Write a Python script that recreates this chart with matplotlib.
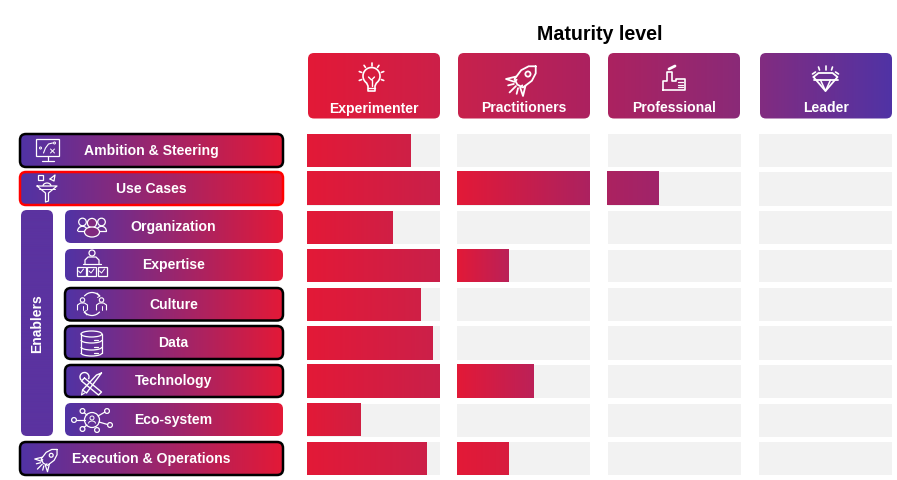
import numpy as np
import matplotlib
matplotlib.use("Agg")
import matplotlib.pyplot as plt
from matplotlib.colors import LinearSegmentedColormap, to_rgb
from matplotlib.patches import FancyBboxPatch, Circle, Ellipse, Rectangle, Arc

plt.rcParams['font.family'] = ['Liberation Sans', 'DejaVu Sans']

# data
niveles = ["Experimenter", "Practitioners", "Professional", "Leader"]
filas = ["Ambition & Steering", "Use Cases", "Organization", "Expertise", "Culture",
         "Data", "Technology", "Eco-system", "Execution & Operations"]
experimenter = [0.78, 1.0, 0.64, 1.0, 0.855, 0.94, 1.0, 0.40, 0.90]
practitioners = [0, 1.0, 0, 0.385, 0, 0, 0.575, 0, 0.39]
professional = [0, 0.39, 0, 0, 0, 0, 0, 0, 0]
leader = [0, 0, 0, 0, 0, 0, 0, 0, 0]
valores = [experimenter, practitioners, professional, leader]

ROJO = "#e31937"
MORADO = "#5033a5"
BLANCO = "white"

fig = plt.figure(figsize=(8.97, 4.81), dpi=100)
ax = fig.add_axes([0, 0, 1, 1])


def gradiente(x0, y0, x1, y1, c0, c1, clip=None):
    cmap = LinearSegmentedColormap.from_list("g", [to_rgb(c0), to_rgb(c1)])
    im = ax.imshow(np.linspace(0, 1, 256).reshape(1, -1), cmap=cmap, extent=(x0, x1, y1, y0),
                   aspect="auto", interpolation="bilinear", zorder=2)
    if clip is not None:
        im.set_clip_path(clip)


def caja(x0, y0, x1, y1, c0, c1, borde=None, lw=1.8, r=6):
    forma = FancyBboxPatch((x0 + r, y0 + r), x1 - x0 - 2 * r, y1 - y0 - 2 * r,
                           boxstyle="round,pad=%d,rounding_size=%d" % (r, r),
                           fc="none", ec="none", zorder=2)
    ax.add_patch(forma)
    gradiente(x0, y0, x1, y1, c0, c1, clip=forma)
    if borde:
        ax.add_patch(FancyBboxPatch((x0 + r, y0 + r), x1 - x0 - 2 * r, y1 - y0 - 2 * r,
                                    boxstyle="round,pad=%d,rounding_size=%d" % (r, r),
                                    fc="none", ec=borde, lw=lw, zorder=3))


def ln(xs, ys, lw=0.9):
    ax.plot(xs, ys, color=BLANCO, lw=lw, zorder=5, solid_capstyle="round", solid_joinstyle="round")


def circ(x, y, r, lw=0.9):
    ax.add_patch(Circle((x, y), r, fc="none", ec=BLANCO, lw=lw, zorder=5))


def rect(x, y, w, h, lw=0.9):
    ax.add_patch(Rectangle((x, y), w, h, fc="none", ec=BLANCO, lw=lw, zorder=5))


def arco(x, y, w, h, a, b, lw=0.9):
    ax.add_patch(Arc((x, y), w, h, theta1=a, theta2=b, ec=BLANCO, lw=lw, zorder=5))


# iconos
def icono_pizarra(cx, cy):
    rect(cx - 11.5, cy - 11, 23, 17)
    ln([cx, cx], [cy + 6, cy + 10])
    ln([cx - 6, cx + 6], [cy + 11, cy + 11])
    ln([cx - 4, cx - 2, cx + 1, cx + 5], [cy + 3, cy - 2, cy - 6, cy - 7], lw=0.8)
    circ(cx - 7, cy - 2, 1, lw=0.7)
    circ(cx + 7, cy - 7, 1, lw=0.7)
    ln([cx + 3, cx + 7], [cy - 1, cy + 3], lw=0.7)
    ln([cx + 7, cx + 3], [cy - 1, cy + 3], lw=0.7)


def icono_embudo(cx, cy):
    ln([cx - 10, cx + 10, cx + 1.5, cx + 1.5, cx - 1.5, cx - 1.5, cx - 10],
       [cy - 2, cy - 2, cy + 5, cy + 13, cy + 14, cy + 5, cy - 2])
    ln([cx - 8, cx + 8], [cy + 1, cy + 1], lw=0.7)
    arco(cx, cy - 2, 8, 6, 180, 360)
    rect(cx - 9, cy - 13, 5, 5)
    ln([cx + 3, cx + 8, cx + 7, cx + 3], [cy - 9, cy - 13, cy - 7, cy - 9])


def persona(x, y, r=3.2, lw=0.9):
    circ(x, y, r, lw=lw)
    arco(x, y + r + 5.5, 2.6 * r, 10, 180, 360, lw=lw)
    ln([x - 1.3 * r, x + 1.3 * r], [y + r + 5.5, y + r + 5.5], lw=lw)


def icono_grupo(cx, cy):
    persona(cx - 9.5, cy - 5, 3.8)
    persona(cx + 9.5, cy - 5, 3.8)
    ax.add_patch(Circle((cx, cy - 4), 4.6, fc="#80297e", ec=BLANCO, lw=0.9, zorder=5))
    ax.add_patch(Ellipse((cx, cy + 5), 15, 10, fc="#80297e", ec=BLANCO, lw=0.9, zorder=5))


def icono_experto(cx, cy):
    circ(cx, cy - 12, 3)
    ln([cx - 7, cx - 7, cx - 4, cx + 4, cx + 7, cx + 7], [cy - 1, cy - 5, cy - 8, cy - 8, cy - 5, cy - 1])
    ln([cx - 9, cx + 9], [cy - 1, cy - 1])
    for dx in [-15.5, -5, 5.5]:
        rect(cx + dx, cy + 2, 9, 8.5)
        ln([cx + dx + 2, cx + dx + 4, cx + dx + 7], [cy + 6, cy + 8, cy + 4], lw=0.7)


def icono_cultura(cx, cy):
    for dx in [-9.5, 9.5]:
        circ(cx + dx, cy - 4, 2.2, lw=0.8)
        ln([cx + dx - 5, cx + dx - 5, cx + dx - 2, cx + dx + 2, cx + dx + 5, cx + dx + 5],
           [cy + 6, cy + 1, cy - 1, cy - 1, cy + 1, cy + 6], lw=0.8)
        ln([cx + dx, cx + dx], [cy + 2, cy + 6], lw=0.7)
    arco(cx, cy, 21, 23, 225, 315)
    arco(cx, cy, 21, 23, 45, 135)
    ln([cx + 5, cx + 8, cx + 5.5], [cy - 11, cy - 8, cy - 6.5], lw=0.7)
    ln([cx - 5, cx - 8, cx - 5.5], [cy + 11, cy + 8, cy + 6.5], lw=0.7)


def icono_datos(cx, cy):
    ax.add_patch(Ellipse((cx, cy - 9), 21, 6, fc="none", ec=BLANCO, lw=0.9, zorder=5))
    ln([cx - 10.5, cx - 10.5], [cy - 9, cy + 10])
    ln([cx + 10.5, cx + 10.5], [cy - 9, cy + 10])
    arco(cx, cy + 10, 21, 6, 0, 180)
    arco(cx, cy - 3, 21, 6, 0, 180)
    arco(cx, cy + 4, 21, 6, 0, 180)
    for dy in [-3, 4, 10]:
        ln([cx + 2, cx + 6], [cy + dy, cy + dy], lw=0.9)


def icono_herramientas(cx, cy):
    ln([cx - 7, cx + 10, cx + 7, cx - 10, cx - 7], [cy - 6, cy + 8, cy + 11, cy - 3, cy - 6], lw=1.0)
    ln([cx + 10, cx + 5, cx - 9, cx - 5, cx + 10], [cy - 11, cy - 9, cy + 6, cy + 9, cy - 11], lw=1.0)
    arco(cx - 7, cy - 7, 9, 9, 135, 30, lw=1.0)
    ln([cx - 9, cx - 10, cx - 7], [cy + 6, cy + 11, cy + 9], lw=0.8)


def icono_red(cx, cy):
    circ(cx, cy, 7.5)
    circ(cx, cy - 2, 2, lw=0.7)
    arco(cx, cy + 3.5, 7, 5, 180, 360, lw=0.7)
    for dx, dy in [(-18, 0), (-9.5, -9), (-9.5, 9), (15, -9), (18, 5), (5, 10)]:
        circ(cx + dx, cy + dy, 2.4)
    ln([cx - 15.5, cx - 7.5], [cy, cy])
    ln([cx - 7.8, cx - 5], [cy - 7.2, cy - 5])
    ln([cx - 7.8, cx - 5], [cy + 7.2, cy + 5])
    ln([cx + 6, cx + 13], [cy - 4, cy - 8])
    ln([cx + 7, cx + 15.6], [cy + 2, cy + 4.5])


def icono_cohete(cx, cy, e=1.0, lw=0.9):
    def rot(u, v):
        u, v = np.array(u, float) * e, np.array(v, float) * e
        return cx + (u + v) * 0.707, cy + (-u + v) * 0.707
    ln(*rot([18, 13, 5, -6, -8, -6, 5, 13, 18], [0, 5, 7.5, 6, 0, -6, -7.5, -5, 0]), lw=lw)
    ln(*rot([-3, -12, -8, -5], [6.5, 12, 4, 4]), lw=lw)
    ln(*rot([-3, -12, -8, -5], [-6.5, -12, -4, -4]), lw=lw)
    ln(*rot([-10, -19], [0, 0]), lw=lw)
    ln(*rot([-10, -15], [3, 6]), lw=lw)
    ln(*rot([-10, -15], [-3, -6]), lw=lw)
    x, y = rot([7], [0])
    circ(x[0], y[0], 2.6 * e, lw=lw)


def icono_bombilla(cx, cy):
    arco(cx, cy - 2, 17, 17, 125, 55, lw=1.2)
    ln([cx - 4.9, cx - 3.5, cx - 3.5, cx + 3.5, cx + 3.5, cx + 4.9],
       [cy + 5, cy + 8, cy + 13, cy + 13, cy + 8, cy + 5], lw=1.2)
    ln([cx - 3.5, cx + 3.5], [cy + 10, cy + 10], lw=1.0)
    ln([cx - 3, cx, cx + 3], [cy - 1, cy + 2, cy - 1], lw=1.0)
    ln([cx, cx], [cy + 2, cy + 8], lw=1.0)
    for ang in [90, 125, 55, 160, 20, 200, 340]:
        a = np.radians(ang)
        ln([cx + 10.5 * np.cos(a), cx + 13 * np.cos(a)], [cy - 2 - 10.5 * np.sin(a), cy - 2 - 13 * np.sin(a)], lw=1.2)


def icono_fabrica(cx, cy):
    ln([cx - 10, cx - 10, cx - 6, cx - 6, cx - 1, cx - 1, cx + 3, cx + 3, cx + 12, cx + 12, cx - 10],
       [cy + 12, cy + 3, cy + 3, cy - 6, cy - 6, cy + 3, cy + 3, cy + 1, cy + 1, cy + 12, cy + 12], lw=1.2)
    ln([cx - 4, cx + 2], [cy - 9, cy - 12], lw=2.0)
    for dy in [4, 6.5, 9]:
        ln([cx + 5, cx + 10], [cy + dy, cy + dy], lw=0.9)


def icono_diamante(cx, cy):
    ln([cx - 12, cx - 7, cx + 7, cx + 12, cx, cx - 12], [cy - 1, cy - 5, cy - 5, cy - 1, cy + 13, cy - 1], lw=1.3)
    ln([cx - 12, cx + 12], [cy + 2, cy + 2], lw=1.3)
    ln([cx - 5, cx, cx + 5], [cy + 2, cy + 13, cy + 2], lw=1.1)
    for dx0, dy0, dx1, dy1 in [(0, -8, 0, -12), (-6, -8, -7, -11), (6, -8, 7, -11), (-13, -4, -10, -6), (13, -4, 10, -6)]:
        ln([cx + dx0, cx + dx1], [cy + dy0, cy + dy1], lw=1.2)


# titulo
ax.text(600, 33.5, "Maturity level", ha="center", va="center", fontsize=14.1, fontweight="bold", color="black")

# cabeceras
cab_x = [(308, 440), (458, 590), (608, 740), (760, 892)]
cab_col = [(ROJO, "#cc2049"), ("#c8214c", "#ac2260"), ("#ac2260", "#8a2a78"), ("#822c80", MORADO)]
for nombre, (x0, x1), (c0, c1) in zip(niveles, cab_x, cab_col):
    caja(x0, 53, x1, 118.5, c0, c1)
    ax.text((x0 + x1) / 2, 107.5, nombre, ha="center", va="center", fontsize=10.1, fontweight="bold", color=BLANCO, zorder=6)
icono_bombilla(371.5, 78)
icono_cohete(523, 79, e=1.0, lw=1.3)
icono_fabrica(673, 78)
icono_diamante(825.5, 78)

# barras
celdas_x = [(307, 440), (457, 590), (607, 740), (759, 892)]
celdas_y = [(134, 167), (172, 205.5), (211, 243.5), (249.5, 282), (288, 321),
            (326, 360), (364.5, 398), (403.5, 436.5), (442, 475)]
fin_col = [["#ce2046", "#c9204a", "#d01f45", "#c9204a", "#cf2046", "#cc2049", "#c9204a", "#d01f42", "#cc2048"],
           ["#ac2260", "#ac2260", "#ac2260", "#ba2158", "#ac2260", "#ac2260", "#bc2158", "#ac2260", "#d81d3f"],
           ["#a0246a"] * 9,
           [MORADO] * 9]
ini_col = [ROJO, ROJO, "#ac2260", "#822c80"]
for c, serie in enumerate(valores):
    x0, x1 = celdas_x[c]
    for f, v in enumerate(serie):
        y0, y1 = celdas_y[f]
        ax.add_patch(Rectangle((x0 + 1 if c == 2 else x0, y0), x1 - x0 - 0.5, y1 - y0, fc="#f2f2f2", ec="none", zorder=1))
        if v > 0:
            gradiente(x0, y0, x0 + v * (x1 - x0), y1, ini_col[c], fin_col[c][f])

# etiquetas de la izquierda
caja(21, 210, 53, 436, "#5b33a0", "#5b33a0")
ax.text(37, 322.5, "Enablers", rotation=90, ha="center", va="center", fontsize=10.0, fontweight="bold", color=BLANCO, zorder=6)

filas_caja = [(20, 134, 283, 167, "black", 151), (20, 172, 283, 205, "#ff0000", 151),
              (65, 210, 283, 243, None, 173.5), (65, 249, 283, 281, None, 173.5),
              (65, 288, 283, 320.5, "black", 173.5), (65, 326, 283, 359, "black", 173.5),
              (65, 365, 283, 397, "black", 173.5), (65, 403, 283, 436, None, 173.5),
              (20, 442, 283, 475, "black", 151)]
for nombre, (x0, y0, x1, y1, borde, tx) in zip(filas, filas_caja):
    caja(x0, y0, x1, y1, MORADO, ROJO, borde=borde)
    ax.text(tx, (y0 + y1) / 2 - 0.5, nombre, ha="center", va="center", fontsize=10.1, fontweight="bold", color=BLANCO, zorder=6)

icono_pizarra(47.5, 150)
icono_embudo(47, 188)
icono_grupo(92, 227)
icono_experto(92, 265)
icono_cultura(92, 304)
icono_datos(91.5, 343)
icono_herramientas(91.5, 384)
icono_red(92, 420)
icono_cohete(47.5, 459, e=0.75, lw=0.9)

ax.set_xlim(0, 897)
ax.set_ylim(480, -1)
ax.axis("off")

fig.savefig("out.png", dpi=100, facecolor="white")
